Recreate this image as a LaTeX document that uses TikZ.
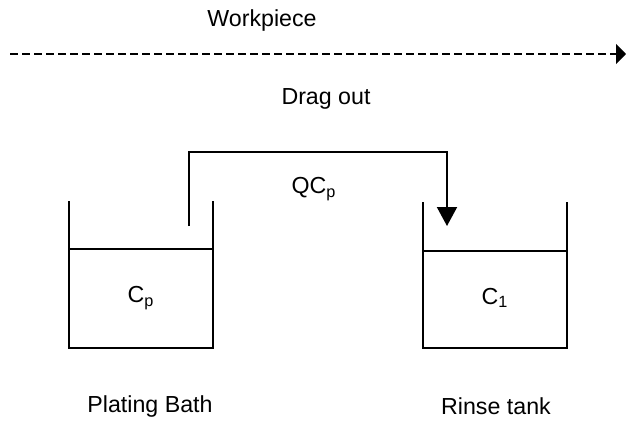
\documentclass[tikz,border=0pt]{standalone}
\usepackage{fontspec}
\setmainfont{Liberation Sans}
\usetikzlibrary{arrows.meta}

\begin{document}
\begin{tikzpicture}[x=0.5pt, y=-0.5pt, line width=1pt,
    lbl/.style={inner sep=0pt, font=\fontsize{11.6}{13}\selectfont},
    wall/.style={line width=1pt}]
        \useasboundingbox (0,0) rectangle (627,428);

        \node[lbl] (wp) at (262, 21) {Workpiece};
        \coordinate (wpa) at (10, 54);
        \coordinate (wpb) at (626, 54);
        \draw[dashed, dash pattern=on 4pt off 2pt, -{Triangle[length=5pt, width=10pt]}] (wpa) to (wpb);

        \node[lbl] (drag) at (326, 99) {Drag out};
        \node[lbl] (qc) at (314, 189) {QC\textsubscript{p}};

        % plating bath
        \draw[wall] (69, 201) -- (69, 348) -- (213, 348) -- (213, 201);
        \draw[wall] (69, 249) -- (213, 249);
        \node[lbl] (cp) at (141, 298) {C\textsubscript{p}};
        \node[lbl] (pb) at (150, 406) {Plating Bath};

        % rinse tank
        \draw[wall] (423, 202) -- (423, 348) -- (567, 348) -- (567, 202);
        \draw[wall] (423, 251) -- (567, 251);
        \node[lbl] (c1) at (495, 298) {C\textsubscript{1}};
        \node[lbl] (rt) at (496, 406) {Rinse tank};

        \coordinate (pin) at (189, 226);
        \coordinate (pout) at (447, 226);
        \draw[-{Triangle[length=9.5pt, width=10pt]}] (pin) |- (318, 152) -| (pout);
    \end{tikzpicture}
\end{document}
